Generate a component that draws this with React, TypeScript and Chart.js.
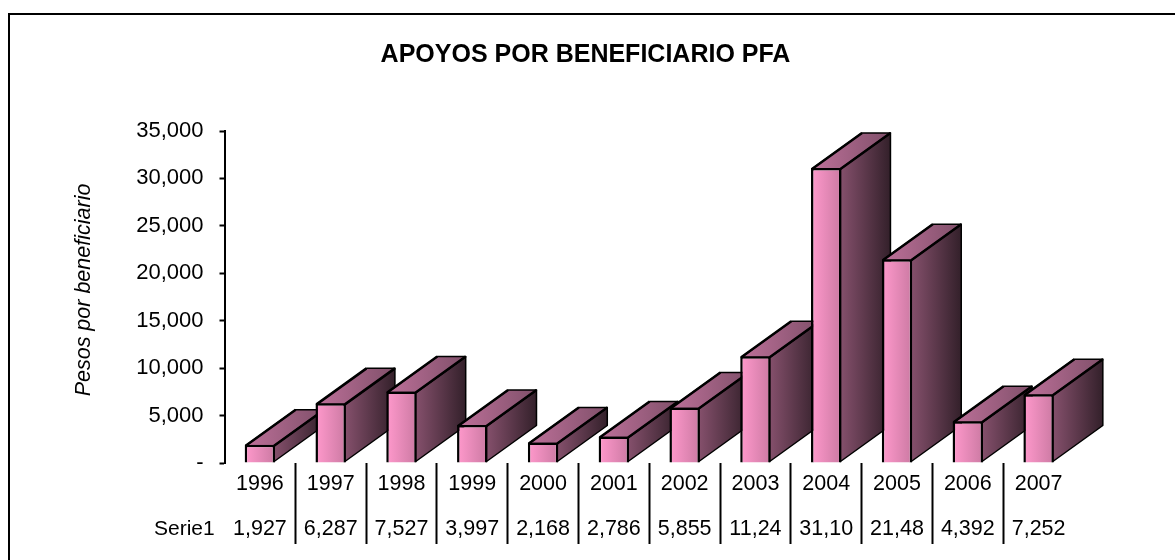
import React, { useEffect, useRef } from "react";
import { Chart, registerables } from "chart.js";

Chart.register(...registerables);

const years = ["1996", "1997", "1998", "1999", "2000", "2001", "2002", "2003", "2004", "2005", "2006", "2007"];
const seriesValues = [1927, 6287, 7527, 3997, 2168, 2786, 5855, 11245, 31105, 21485, 4392, 7252];
const tableLabels = ["1,927", "6,287", "7,527", "3,997", "2,168", "2,786", "5,855", "11,24", "31,10", "21,48", "4,392", "7,252"];
const seriesName = "Serie1";
const chartTitle = "APOYOS POR BENEFICIARIO PFA";
const yTitle = "Pesos por beneficiario";

const FONT = '"Liberation Sans", Arial, sans-serif';
const DEPTH_X = 50;
const DEPTH_Y = -36;

const depthPlugin = {
  id: "depthFaces",
  beforeDraw(chart: any) {
    const c = chart.ctx;
    c.save();
    c.strokeStyle = "#000";
    c.lineWidth = 2;
    c.beginPath();
    c.moveTo(9, 562);
    c.lineTo(9, 14);
    c.lineTo(1177, 14);
    c.stroke();
    c.restore();
  },
  beforeDatasetsDraw(chart: any) {
    const c = chart.ctx;
    const bars = chart.getDatasetMeta(0).data;
    c.save();
    c.strokeStyle = "#000";
    c.lineJoin = "round";
    bars.forEach((bar: any) => {
      const { x, y, base, width } = bar.getProps(["x", "y", "base", "width"], true);
      const l = x - width / 2 + 1;
      const r = x + width / 2 - 1;
      const t = y + 1;
      const b = base - 1;
      const side = c.createLinearGradient(r, 0, r + DEPTH_X, 0);
      side.addColorStop(0, "#85506C");
      side.addColorStop(1, "#33202A");
      c.fillStyle = side;
      c.lineWidth = 1.5;
      c.beginPath();
      c.moveTo(r, t);
      c.lineTo(r + DEPTH_X, t + DEPTH_Y);
      c.lineTo(r + DEPTH_X, b + DEPTH_Y);
      c.lineTo(r, b);
      c.closePath();
      c.fill();
      c.stroke();
      const top = c.createLinearGradient(l, 0, r + DEPTH_X, 0);
      top.addColorStop(0, "#BD7099");
      top.addColorStop(1, "#80506A");
      c.fillStyle = top;
      c.beginPath();
      c.moveTo(l, t);
      c.lineTo(l + DEPTH_X, t + DEPTH_Y);
      c.lineTo(r + DEPTH_X, t + DEPTH_Y);
      c.lineTo(r, t);
      c.closePath();
      c.fill();
      c.stroke();
      c.lineWidth = 2.5;
      c.beginPath();
      c.moveTo(l, t);
      c.lineTo(l + DEPTH_X, t + DEPTH_Y);
      c.moveTo(r, t);
      c.lineTo(r + DEPTH_X, t + DEPTH_Y);
      c.stroke();
    });
    c.restore();
  },
  afterDraw(chart: any) {
    const c = chart.ctx;
    c.save();
    c.fillStyle = "#000";
    c.font = `21px ${FONT}`;
    c.textAlign = "left";
    c.textBaseline = "middle";
    c.fillText(chart.data.datasets[0].label, 154, 529);
    c.translate(84, 290);
    c.rotate(-Math.PI / 2);
    c.textAlign = "center";
    c.font = `italic 21.5px ${FONT}`;
    c.fillText(yTitle, 0, 0);
    c.restore();
  },
};

export default function App() {
  const ref = useRef<HTMLCanvasElement>(null);
  useEffect(() => {
    const chart = new Chart(ref.current!, {
      type: "bar",
      data: {
        labels: years,
        datasets: [
          {
            label: seriesName,
            data: seriesValues,
            categoryPercentage: 1,
            barPercentage: 0.43,
            borderColor: "#000",
            borderWidth: 2.5,
            backgroundColor: (ctx: any) => {
              const sc = ctx.chart.scales.x;
              const cx = sc.getPixelForTick(ctx.dataIndex);
              const g = ctx.chart.ctx.createLinearGradient(cx - 15, 0, cx + 15, 0);
              g.addColorStop(0, "#FF99CC");
              g.addColorStop(1, "#CC7AA3");
              return g;
            },
          },
        ],
      },
      options: {
        responsive: false,
        animation: false,
        layout: { padding: { left: 0, right: 4, top: 22, bottom: 0 } },
        plugins: {
          legend: { display: false },
          tooltip: { enabled: false },
          title: {
            display: true,
            text: chartTitle,
            color: "#000",
            font: { family: FONT, size: 25, weight: "bold", lineHeight: 1.2 },
            padding: { top: 18, bottom: 61 },
          },
        },
        scales: {
          x: {
            border: { display: false },
            afterFit: (s: any) => {
              s.height = 97;
            },
            grid: {
              drawOnChartArea: false,
              tickLength: 81,
              tickWidth: 2,
              tickColor: (ctx: any) => (ctx.index > 0 ? "#000" : "rgba(0,0,0,0)"),
            },
            ticks: {
              autoSkip: false,
              maxRotation: 0,
              minRotation: 0,
              padding: -82,
              color: "#000",
              font: { family: FONT, size: 21.5, lineHeight: "45px" },
              callback: (_v: any, i: number) => [years[i], tableLabels[i]],
            },
          },
          y: {
            min: 0,
            max: 35000,
            border: { color: "#000", width: 2 },
            afterFit: (s: any) => {
              s.width = 224.5;
            },
            grid: { drawOnChartArea: false, tickLength: 5, tickWidth: 2, tickColor: "#000" },
            ticks: {
              stepSize: 5000,
              padding: 16,
              color: "#000",
              font: { family: FONT, size: 22 },
              callback: (v: any) => (v === 0 ? "-" : Number(v).toLocaleString("en-US")),
            },
          },
          gutter: {
            type: "linear",
            position: "right",
            afterFit: (s: any) => {
              s.width = 97;
            },
            border: { display: false },
            grid: { display: false },
            ticks: { display: false },
          },
        },
      } as any,
      plugins: [depthPlugin],
    });
    return () => chart.destroy();
  }, []);
  return (
    <div style={{ position: "fixed", left: 0, top: 0, width: 1175, height: 560, background: "#fff" }}>
      <canvas ref={ref} width={1175} height={560} style={{ display: "block" }} />
    </div>
  );
}
